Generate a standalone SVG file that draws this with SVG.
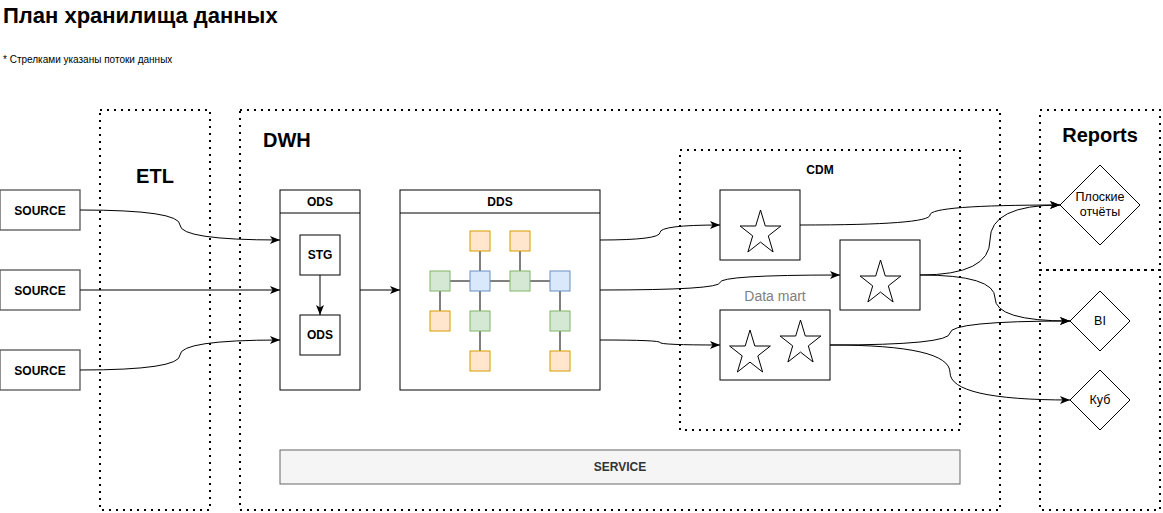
<svg xmlns="http://www.w3.org/2000/svg" width="1163" height="513" viewBox="0 0 1163 513">
<style>
text{font-family:"Liberation Sans",Arial,sans-serif;}
.h{font-weight:bold;font-size:20px;}
.b{font-weight:bold;font-size:12px;text-anchor:middle;}
.src{font-weight:bold;font-size:12px;text-anchor:middle;}
.n{font-size:12.5px;text-anchor:middle;}
.dot{fill:none;stroke:#000;stroke-width:2;stroke-dasharray:2 5;}
.box{fill:#fff;stroke:#000;stroke-width:1;}
.gbox{fill:#fff;stroke:#555;stroke-width:1.3;}
.e{fill:none;stroke:#000;stroke-width:1;}
.o{fill:#ffe6cc;stroke:#d79b00;}
.g{fill:#d5e8d4;stroke:#82b366;}
.bl{fill:#dae8fc;stroke:#6c8ebf;}
.star{fill:#fff;stroke:#000;stroke-width:1;}
</style>
<defs>
<marker id="arr" markerUnits="userSpaceOnUse" markerWidth="12" markerHeight="10" refX="10" refY="4" orient="auto">
<path d="M0,0 L10,4 L0,8 L2.5,4 Z" fill="#000"/>
</marker>
<polygon id="star" points="0,-23.2 4.8,-7.2 20.4,-7.2 7.8,2.7 12.6,18.8 0,8.9 -12.6,18.8 -7.8,2.7 -20.4,-7.2 -4.8,-7.2"/>
</defs>
<rect width="1163" height="513" fill="#fff"/>
<g id="title">
<text x="3" y="23" font-weight="bold" font-size="22">План хранилища данных</text>
<text x="3" y="63" font-size="10">* Стрелками указаны потоки данных</text>
</g>
<g id="etl">
<rect x="100" y="110" width="110" height="400" class="dot"/>
<text x="155" y="183" class="h" text-anchor="middle">ETL</text>
</g>
<g id="dwh">
<rect x="240" y="110" width="760" height="400" class="dot"/>
<text x="263" y="147" class="h">DWH</text>
</g>
<g id="reports">
<rect x="1040" y="110" width="120" height="160" class="dot"/>
<rect x="1040" y="270" width="120" height="240" class="dot"/>
<text x="1100" y="142" class="h" text-anchor="middle">Reports</text>
</g>
<g id="source1"><rect x="0" y="190" width="80" height="40" class="gbox"/><text x="40" y="215" class="src">SOURCE</text></g>
<g id="source2"><rect x="0" y="270" width="80" height="40" class="gbox"/><text x="40" y="295" class="src">SOURCE</text></g>
<g id="source3"><rect x="0" y="350" width="80" height="40" class="gbox"/><text x="40" y="375" class="src">SOURCE</text></g>
<g id="ods">
<rect x="280" y="190" width="80" height="200" class="box"/>
<line x1="280" y1="213" x2="360" y2="213" stroke="#000"/>
<text x="320" y="206" class="b">ODS</text>
</g>
<g id="stg"><rect x="300" y="235" width="40" height="40" class="box"/><text x="320" y="259" class="b">STG</text></g>
<g id="ods-inner"><rect x="300" y="315" width="40" height="40" class="box"/><text x="320" y="339" class="b">ODS</text></g>
<g id="dds">
<rect x="400" y="190" width="200" height="200" class="box"/>
<line x1="400" y1="213" x2="600" y2="213" stroke="#000"/>
<text x="500" y="206" class="b">DDS</text>
<g stroke="#000" stroke-width="1">
<line x1="450" y1="281" x2="470" y2="281"/>
<line x1="490" y1="281" x2="510" y2="281"/>
<line x1="530" y1="281" x2="550" y2="281"/>
<line x1="480" y1="251" x2="480" y2="271"/>
<line x1="520" y1="251" x2="520" y2="271"/>
<line x1="440" y1="291" x2="440" y2="311"/>
<line x1="480" y1="291" x2="480" y2="311"/>
<line x1="480" y1="331" x2="480" y2="351"/>
<line x1="560" y1="291" x2="560" y2="311"/>
<line x1="560" y1="331" x2="560" y2="351"/>
</g>
<rect x="470" y="231" width="20" height="20" class="o"/>
<rect x="510" y="231" width="20" height="20" class="o"/>
<rect x="430" y="271" width="20" height="20" class="g"/>
<rect x="470" y="271" width="20" height="20" class="bl"/>
<rect x="510" y="271" width="20" height="20" class="g"/>
<rect x="550" y="271" width="20" height="20" class="bl"/>
<rect x="430" y="311" width="20" height="20" class="o"/>
<rect x="470" y="311" width="20" height="20" class="g"/>
<rect x="550" y="311" width="20" height="20" class="g"/>
<rect x="470" y="351" width="20" height="20" class="o"/>
<rect x="550" y="351" width="20" height="20" class="o"/>
</g>
<g id="cdm">
<rect x="680" y="150" width="280" height="280" class="dot"/>
<text x="820" y="174" class="b">CDM</text>
</g>
<g id="mart1"><rect x="720" y="190" width="80" height="70" class="box"/><use href="#star" class="star" x="760.5" y="233.2"/></g>
<g id="mart2"><rect x="840" y="240" width="80" height="70" class="box"/><use href="#star" class="star" x="880.5" y="283.2"/></g>
<g id="mart3">
<text x="775" y="301" font-size="14" fill="#808080" text-anchor="middle">Data mart</text>
<rect x="720" y="310" width="110" height="70" class="box"/>
<use href="#star" class="star" x="750" y="353.2"/>
<use href="#star" class="star" x="800.5" y="343.2"/>
</g>
<g id="flat">
<polygon points="1100,165 1140,205 1100,245 1060,205" class="box"/>
<text x="1100" y="201" class="n">Плоские</text>
<text x="1100" y="216" class="n">отчёты</text>
</g>
<g id="bi"><polygon points="1100,291 1130,321 1100,351 1070,321" class="box"/><text x="1100" y="325" class="n">BI</text></g>
<g id="cube"><polygon points="1100,370 1130,400 1100,430 1070,400" class="box"/><text x="1100" y="404" class="n">Куб</text></g>
<g id="service">
<rect x="280" y="450" width="680" height="34" fill="#f5f5f5" stroke="#666"/>
<text x="620" y="471" class="b" fill="#333">SERVICE</text>
</g>
<g id="connectors" class="e">
<path class="e" marker-end="url(#arr)" d="M80,210 Q180,210 180,225 Q180,240 280,240"/>
<path class="e" marker-end="url(#arr)" d="M80,290 L280,290"/>
<path class="e" marker-end="url(#arr)" d="M80,370 Q180,370 180,355 Q180,340 280,340"/>
<path class="e" marker-end="url(#arr)" d="M320,275 L320,315"/>
<path class="e" marker-end="url(#arr)" d="M360,290 L400,290"/>
<path class="e" marker-end="url(#arr)" d="M600,240 Q660,240 660,232.5 Q660,225 720,225"/>
<path class="e" marker-end="url(#arr)" d="M600,290 Q720,290 720,282.5 Q720,275 840,275"/>
<path class="e" marker-end="url(#arr)" d="M600,340 Q660,340 660,342.5 Q660,345 720,345"/>
<path class="e" marker-end="url(#arr)" d="M800,225 Q930,225 930,215 Q930,205 1060,205"/>
<path class="e" marker-end="url(#arr)" d="M920,275 Q990,275 990,240 Q990,205 1060,205"/>
<path class="e" marker-end="url(#arr)" d="M920,275 Q995,275 995,298 Q995,321 1070,321"/>
<path class="e" marker-end="url(#arr)" d="M830,345 Q950,345 950,333 Q950,321 1070,321"/>
<path class="e" marker-end="url(#arr)" d="M830,345 Q950,345 950,372.5 Q950,400 1070,400"/>
</g>
</svg>
